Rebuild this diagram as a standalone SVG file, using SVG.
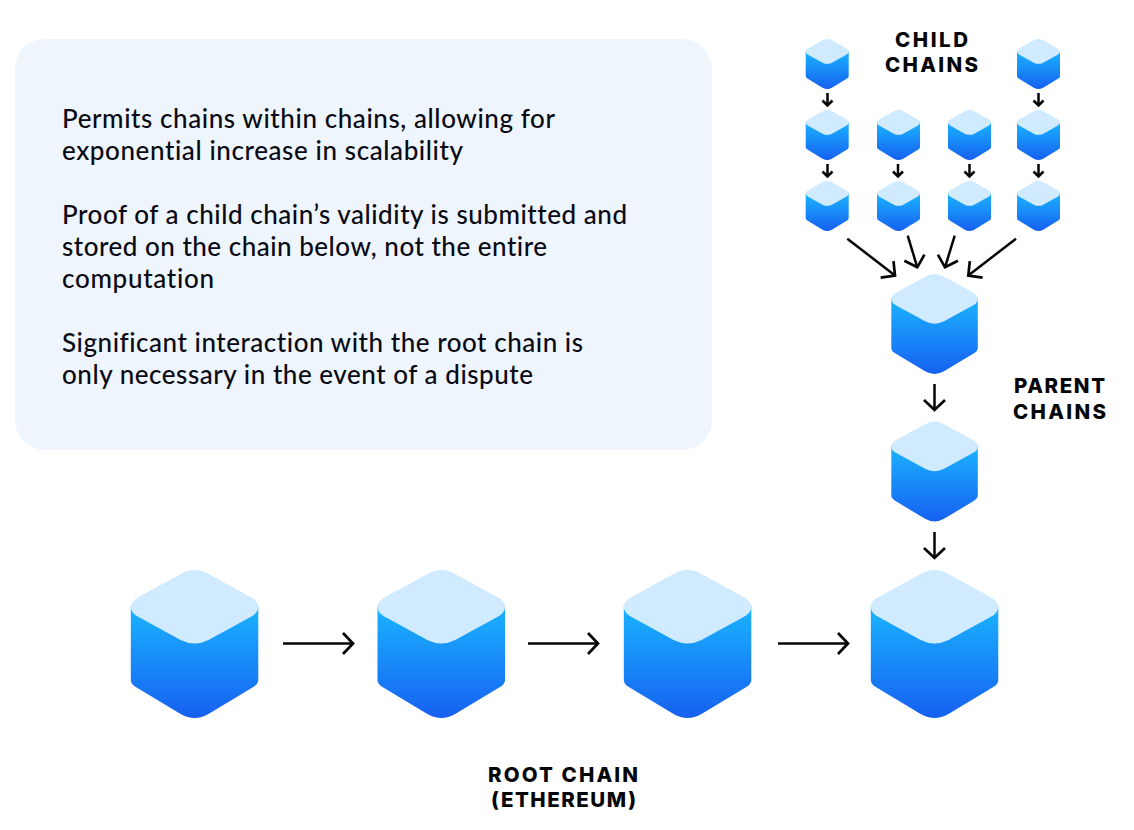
<svg xmlns="http://www.w3.org/2000/svg" xmlns:xlink="http://www.w3.org/1999/xlink" width="1134" height="830" viewBox="0 0 1134 830">
  <style>
    .body { font-family: "Lato", "Noto Sans", sans-serif; font-size: 26px; font-weight: 500; fill: #0a0a14; font-variant-ligatures: none; }
    .label { font-family: "Inter", "Liberation Sans", sans-serif; font-size: 20.5px; font-weight: 800; fill: #050508; letter-spacing: 2px; }
    .conn { fill: none; stroke: #050508; stroke-width: 2.5; }
    .lg { marker-end: url(#headL); }
    .sm { marker-end: url(#headS); }
  </style>
  <defs>
    <linearGradient id="side" x1="0" y1="0" x2="0" y2="1">
      <stop offset="0" stop-color="#1ab4ff"/>
      <stop offset="1" stop-color="#1660f0"/>
    </linearGradient>
    <marker id="headL" markerUnits="userSpaceOnUse" markerWidth="24" markerHeight="24" refX="12" refY="12" orient="auto" overflow="visible">
      <path d="M2,1.5 L12,12 L2,22.5" fill="none" stroke="#050508" stroke-width="2.7"/>
    </marker>
    <marker id="headS" markerUnits="userSpaceOnUse" markerWidth="12" markerHeight="12" refX="6" refY="6" orient="auto" overflow="visible">
      <path d="M1,1 L6,6 L1,11" fill="none" stroke="#050508" stroke-width="2.6"/>
    </marker>
    <symbol id="cube" viewBox="0 0 128 148" overflow="visible" preserveAspectRatio="none">
      <path fill="url(#side)" d="M0,36 V110 Q0,114 5,117 L50,144 Q64,152 78,144 L123,117 Q128,114 128,110 V36 Z"/>
      <path fill="#d0ebff" d="M50,4 Q64,-4 78,4 L122,28 Q128,32 128,37 Q128,42 122,46 L78,70 Q64,77 50,70 L6,46 Q0,42 0,37 Q0,32 6,28 Z"/>
    </symbol>
  </defs>

  <g id="panel">
    <rect x="15" y="39" width="697" height="411" rx="30" fill="#eef5fc"/>
    <text class="body" x="62" y="128" textLength="493">Permits chains within chains, allowing for</text>
    <text class="body" x="62" y="160" textLength="401">exponential increase in scalability</text>
    <text class="body" x="62" y="224" textLength="565">Proof of a child chain’s validity is submitted and</text>
    <text class="body" x="62" y="256" textLength="485">stored on the chain below, not the entire</text>
    <text class="body" x="62" y="288" textLength="152">computation</text>
    <text class="body" x="62" y="352" textLength="521">Significant interaction with the root chain is</text>
    <text class="body" x="62" y="384" textLength="471">only necessary in the event of a dispute</text>
  </g>

  <g id="connectors">
    <path class="conn sm" d="M827.5,93 V105.5"/>
    <path class="conn sm" d="M1038.5,93 V105.5"/>
    <path class="conn sm" d="M827.5,164 V176.5"/>
    <path class="conn sm" d="M898,164 V176.5"/>
    <path class="conn sm" d="M969.5,164 V176.5"/>
    <path class="conn sm" d="M1038.5,164 V176.5"/>
    <path class="conn lg" d="M847.3,238.7 L895,275.5"/>
    <path class="conn lg" d="M907.7,235.7 L917.3,267.3"/>
    <path class="conn lg" d="M954.7,235.7 L945,267.3"/>
    <path class="conn lg" d="M1016,238.7 L968.3,275.5"/>
    <path class="conn lg" d="M934.5,384 V410"/>
    <path class="conn lg" d="M934.5,532 V558"/>
    <path class="conn lg" d="M283,643.5 H353"/>
    <path class="conn lg" d="M528,643.5 H598"/>
    <path class="conn lg" d="M778,643.5 H848"/>
  </g>

  <g id="child-1-1"><use href="#cube" x="805.7" y="39" width="43" height="50"/></g>
  <g id="child-1-4"><use href="#cube" x="1017" y="39" width="43" height="50"/></g>
  <g id="child-2-1"><use href="#cube" x="805.7" y="110" width="43" height="50"/></g>
  <g id="child-2-2"><use href="#cube" x="877" y="110" width="43" height="50"/></g>
  <g id="child-2-3"><use href="#cube" x="948" y="110" width="43" height="50"/></g>
  <g id="child-2-4"><use href="#cube" x="1017" y="110" width="43" height="50"/></g>
  <g id="child-3-1"><use href="#cube" x="805.7" y="181" width="43" height="50"/></g>
  <g id="child-3-2"><use href="#cube" x="877" y="181" width="43" height="50"/></g>
  <g id="child-3-3"><use href="#cube" x="948" y="181" width="43" height="50"/></g>
  <g id="child-3-4"><use href="#cube" x="1017" y="181" width="43" height="50"/></g>
  <g id="parent-1"><use href="#cube" x="891.3" y="274" width="86.5" height="100"/></g>
  <g id="parent-2"><use href="#cube" x="891.3" y="421.5" width="86.5" height="100"/></g>
  <g id="root-1"><use href="#cube" x="130.8" y="570" width="127.5" height="148"/></g>
  <g id="root-2"><use href="#cube" x="377.5" y="570" width="127.5" height="148"/></g>
  <g id="root-3"><use href="#cube" x="623.8" y="570" width="127.5" height="148"/></g>
  <g id="root-4"><use href="#cube" x="870.8" y="570" width="127.5" height="148"/></g>

  <g id="labels">
    <text class="label" x="895" y="47" textLength="75">CHILD</text>
    <text class="label" x="885" y="72" textLength="95">CHAINS</text>
    <text class="label" x="1014" y="393" textLength="93">PARENT</text>
    <text class="label" x="1013" y="419" textLength="95">CHAINS</text>
    <text class="label" x="488" y="782" textLength="152">ROOT CHAIN</text>
    <text class="label" x="491" y="807" textLength="147">(ETHEREUM)</text>
  </g>
</svg>
